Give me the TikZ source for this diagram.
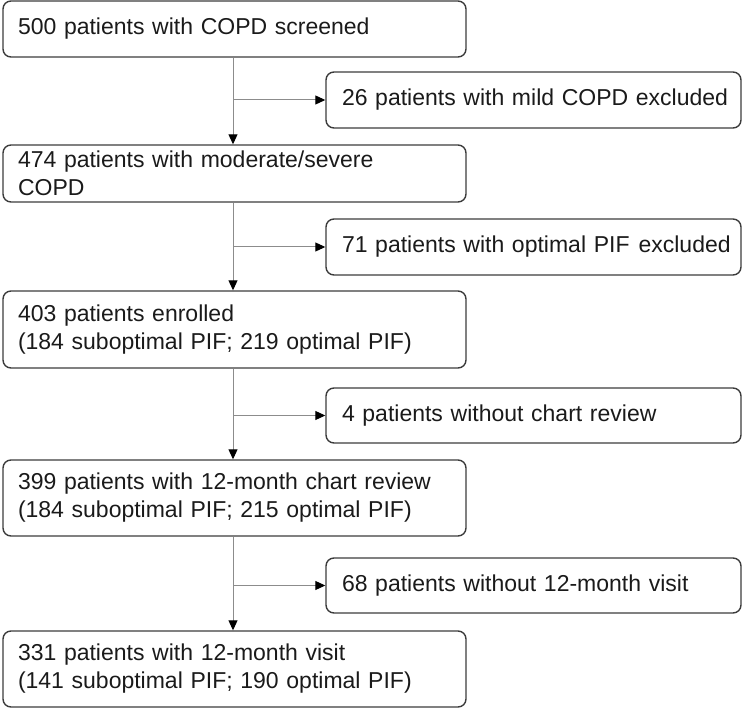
\documentclass[tikz,border=0pt]{standalone}
\usepackage{fontspec}
\setmainfont{Liberation Sans}
\usetikzlibrary{arrows.meta}
\definecolor{boxgray}{HTML}{3C3C3C}
\definecolor{linegray}{HTML}{8C8C8C}
\definecolor{txt}{HTML}{1A1A1A}
\hyphenpenalty=10000
\exhyphenpenalty=10000
\begin{document}
\begin{tikzpicture}[x=1pt,y=-1pt,
  box/.style={draw=boxgray, line width=1.4pt, rounded corners=8pt, inner ysep=0pt,
    align=left, font=\fontsize{23}{28}\selectfont, text=txt},
  lbox/.style={box, inner xsep=15pt, text width=433pt},
  rbox/.style={box, inner xsep=8pt, text width=399pt, execute at begin node={\hspace*{8pt}}},
  conn/.style={draw=linegray, line width=1pt, -{Triangle[length=10pt,width=9pt,color=black,fill=black]}}]
\useasboundingbox (0,0) rectangle (750,708);
\coordinate (spine) at (233,0);

\node[lbox, minimum height=56pt] (b1) at (234.5,29) {500 patients with COPD screened};
\node[lbox, minimum height=57pt] (b2) at (234.5,173.5) {474 patients with moderate/severe\\COPD};
\node[lbox, minimum height=77pt] (b3) at (234.5,329.5) {403 patients enrolled\\(184 suboptimal PIF; 219 optimal PIF)};
\node[lbox, minimum height=76pt] (b4) at (234.5,498) {399 patients with 12-month chart review\\(184 suboptimal PIF; 215 optimal PIF)};
\node[lbox, minimum height=76pt] (b5) at (234.5,669) {331 patients with 12-month visit\\(141 suboptimal PIF; 190 optimal PIF)};

\node[rbox, minimum height=56pt] (r1) at (533.5,100) {\mbox{26 patients with mild COPD excluded}};
\node[rbox, minimum height=56pt] (r2) at (533.5,247) {\mbox{71 patients with optimal PIF\hspace{9pt}excluded}};
\node[rbox, minimum height=55pt] (r3) at (533.5,415.5) {\mbox{4 patients without chart review}};
\node[rbox, minimum height=55pt] (r4) at (533.5,585.5) {\mbox{68 patients without 12-month visit}};

\draw[conn] (b1.south -| spine) -- (b2.north -| spine);
\draw[conn] (b2.south -| spine) -- (b3.north -| spine);
\draw[conn] (b3.south -| spine) -- (b4.north -| spine);
\draw[conn] (b4.south -| spine) -- (b5.north -| spine);

\draw[conn] (r1.west -| spine) -- (r1.west);
\draw[conn] (r2.west -| spine) -- (r2.west);
\draw[conn] (r3.west -| spine) -- (r3.west);
\draw[conn] (r4.west -| spine) -- (r4.west);
\end{tikzpicture}
\end{document}
